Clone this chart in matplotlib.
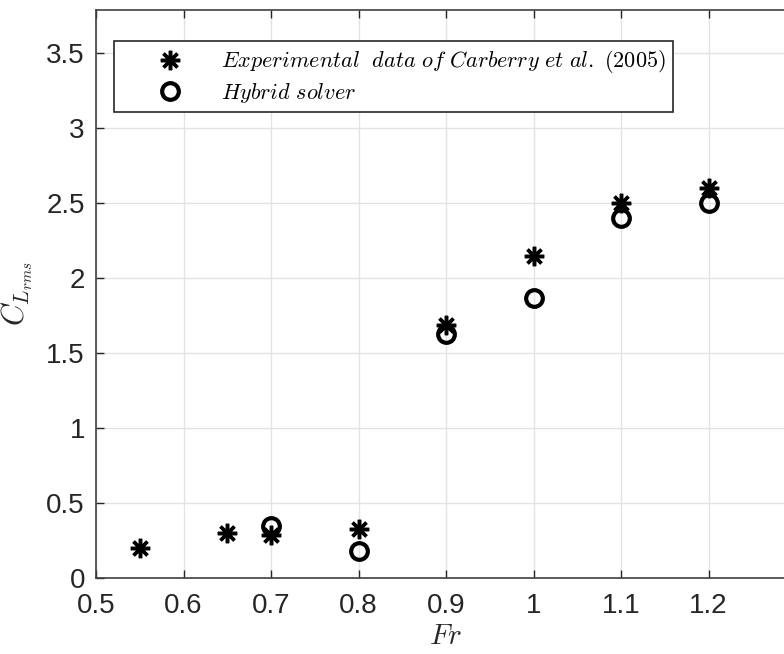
import matplotlib
matplotlib.use("Agg")
import matplotlib.pyplot as plt

plt.rcParams['mathtext.fontset'] = 'cm'
plt.rcParams['font.family'] = ['Liberation Sans', 'DejaVu Sans']

# experimental data (Carberry et al. 2005)
fr_exp = [0.55, 0.65, 0.7, 0.8, 0.9, 1.0, 1.1, 1.2]
cl_exp = [0.20, 0.30, 0.29, 0.33, 1.69, 2.15, 2.50, 2.60]

# hybrid solver
fr_hyb = [0.7, 0.8, 0.9, 1.0, 1.1, 1.2]
cl_hyb = [0.35, 0.18, 1.63, 1.87, 2.40, 2.50]

xticks = [0.5, 0.6, 0.7, 0.8, 0.9, 1.0, 1.1, 1.2]
xticklabels = ['0.5', '0.6', '0.7', '0.8', '0.9', '1', '1.1', '1.2']
yticks = [0, 0.5, 1, 1.5, 2, 2.5, 3, 3.5]
yticklabels = ['0', '0.5', '1', '1.5', '2', '2.5', '3', '3.5']

fig = plt.figure(figsize=(7.84, 6.54), dpi=100)
# right part of the axes is cut off in the original picture
ax = fig.add_axes([96/784, 76/654, 700/784, 568/654])

ax.plot(fr_exp, cl_exp, linestyle='none', marker=(8, 2, 0), markersize=14,
        markeredgewidth=2.5, color='black',
        label=r'$Experimental\ \ data\ of\ Carberry\ et\ al.\ \mathrm{(2005)}$')
ax.plot(fr_hyb, cl_hyb, linestyle='none', marker='o', markersize=12,
        markeredgewidth=3, markerfacecolor='none', markeredgecolor='black',
        label=r'$Hybrid\ solver$')

ax.set_xlim(0.5, 1.3)
ax.set_ylim(0, 3.79)
ax.set_xticks(xticks)
ax.set_xticklabels(xticklabels)
ax.set_yticks(yticks)
ax.set_yticklabels(yticklabels)
ax.tick_params(direction='in', length=6, width=1, labelsize=20,
               colors='#262626', top=True, right=True)
ax.tick_params(axis='x', pad=11)
ax.tick_params(axis='y', pad=8)
ax.grid(True, color='#e3e3e3', linewidth=1)
ax.set_axisbelow(True)
for s in ax.spines.values():
    s.set_color('#404040')
    s.set_linewidth(1.2)

ax.set_xlabel(r'$Fr$', fontsize=21, labelpad=2, color='#262626')
ax.set_ylabel(r'$C_{L_{rms}}$', fontsize=22, labelpad=8, color='#262626')

leg = ax.legend(loc='upper left', bbox_to_anchor=(0.026, 0.945),
                borderaxespad=0, fontsize=16, fancybox=False,
                edgecolor='#262626', framealpha=1, handletextpad=0.1,
                borderpad=0.32, handlelength=4.4, labelspacing=0.25)
leg.get_frame().set_linewidth(1.2)

fig.savefig('out.png', dpi=100)
